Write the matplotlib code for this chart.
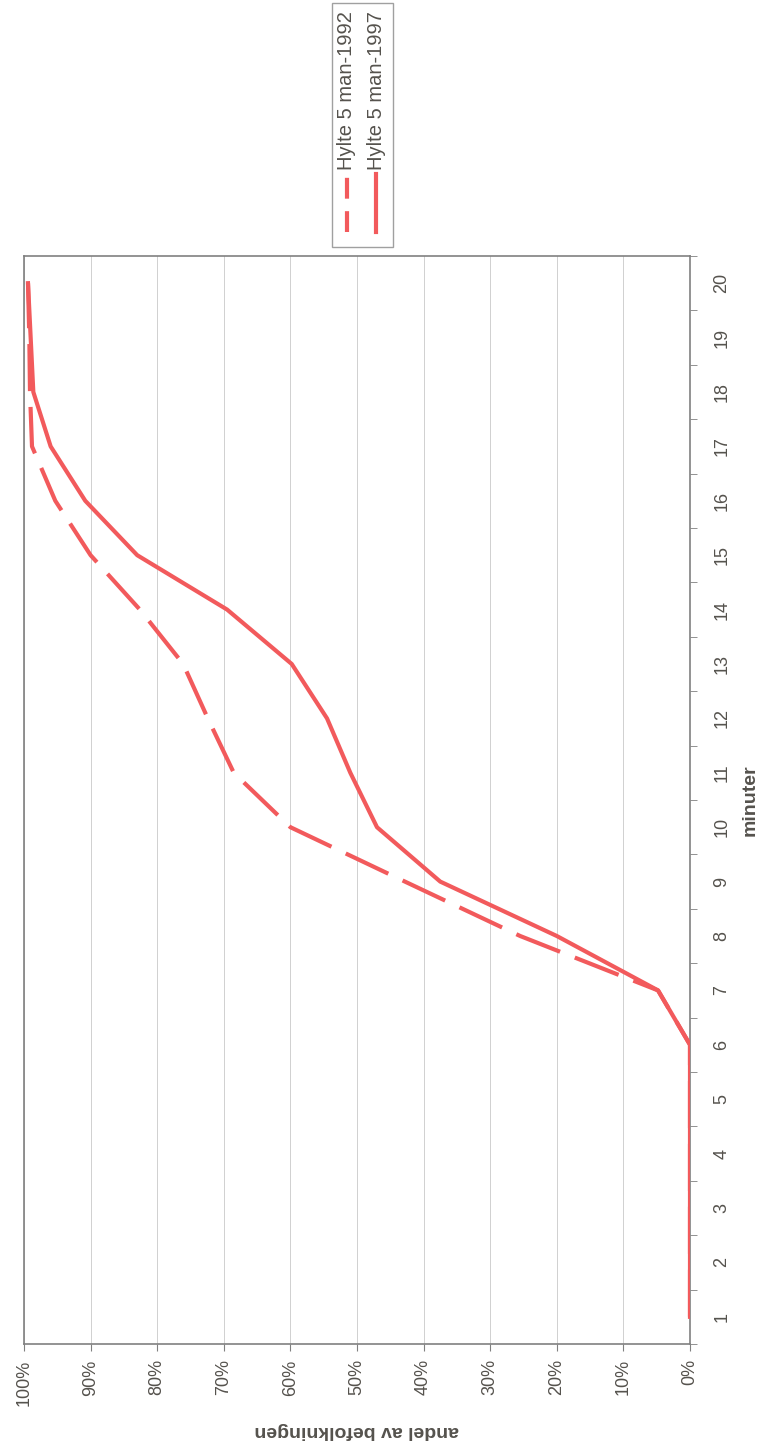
import matplotlib
matplotlib.use('Agg')
import matplotlib.pyplot as plt
from matplotlib.ticker import PercentFormatter, MultipleLocator
from matplotlib.patches import Rectangle
from matplotlib.lines import Line2D

plt.rcParams['font.family'] = ['Liberation Sans', 'DejaVu Sans']

# minuter och andel av befolkningen (%)
minutes = list(range(1, 21))
share_1992 = [0, 0, 0, 0, 0, 0, 4.8, 25.5, 42.8, 60, 68.5, 72.4, 76.1, 82.6, 90, 95.3, 98.8, 99.1, 99.2, 99.4]
share_1997 = [0, 0, 0, 0, 0, 0, 4.8, 20, 37.5, 47, 51, 54.5, 59.8, 69.5, 83, 90.8, 96, 98.6, 99, 99.4]
labels = ['Hylte 5 man-1992', 'Hylte 5 man-1997']
pct_ticks = list(range(0, 101, 10))

W, H = 766, 1451
red = '#f25a5c'
txt = '#55524d'

fig = plt.figure(figsize=(W / 100, H / 100), dpi=100)
# diagrammet är vridet 90 grader: minuter uppåt, andel från höger till vänster
ax = fig.add_axes([24 / W, 1 - 1344 / H, (690 - 24) / W, (1344 - 256) / H])

ax.plot(share_1992, minutes, color=red, lw=3, dashes=(11.3, 3.8), zorder=3)
ax.plot(share_1997, minutes, color=red, lw=3, zorder=4)

ax.set_xlim(100, 0)
ax.set_ylim(0.5, 20.5)

ax.set_xticks(pct_ticks)
ax.xaxis.set_major_formatter(PercentFormatter(100, decimals=0))
ax.tick_params(axis='x', direction='out', length=5, color='#808080',
               labelsize=13, labelcolor=txt, labelrotation=90, pad=6)
ax.grid(axis='x', color='#d0d0d0', lw=0.7)

ax.yaxis.tick_right()
ax.set_yticks(minutes)
ax.yaxis.set_minor_locator(MultipleLocator(1, offset=0.5))
ax.tick_params(axis='y', which='major', length=0, labelsize=13, labelcolor=txt,
               labelrotation=90, pad=17)
ax.tick_params(axis='y', which='minor', direction='out', length=5, color='#808080')
for lab in ax.get_yticklabels():
    lab.set_va('center')

ax.yaxis.set_label_position('right')
ax.set_ylabel('minuter', fontsize=14, fontweight='bold', color=txt, rotation=90, labelpad=8)
ax.set_xlabel('andel av befolkningen', fontsize=14, fontweight='bold', color=txt,
              rotation=180, labelpad=12)

for s in ax.spines.values():
    s.set_color('#808080')
    s.set_linewidth(1.2)

# förklaring, vriden som resten av diagrammet
fig.add_artist(Rectangle((332 / W, 1 - 247 / H), (393 - 332) / W, (247 - 3) / H,
                         transform=fig.transFigure, facecolor='white',
                         edgecolor='#a0a0a0', lw=1))
for xc, lab, ls in [(347, labels[0], (0, (5, 3))), (376, labels[1], '-')]:
    fig.add_artist(Line2D([xc / W, xc / W], [1 - 232 / H, 1 - 174 / H],
                          transform=fig.transFigure, color=red, lw=3, linestyle=ls))
    fig.text(xc / W, 1 - 170 / H, lab, rotation=90, ha='center', va='bottom',
             fontsize=14.5, color=txt)

fig.savefig('out.png', dpi=100, facecolor='white')
